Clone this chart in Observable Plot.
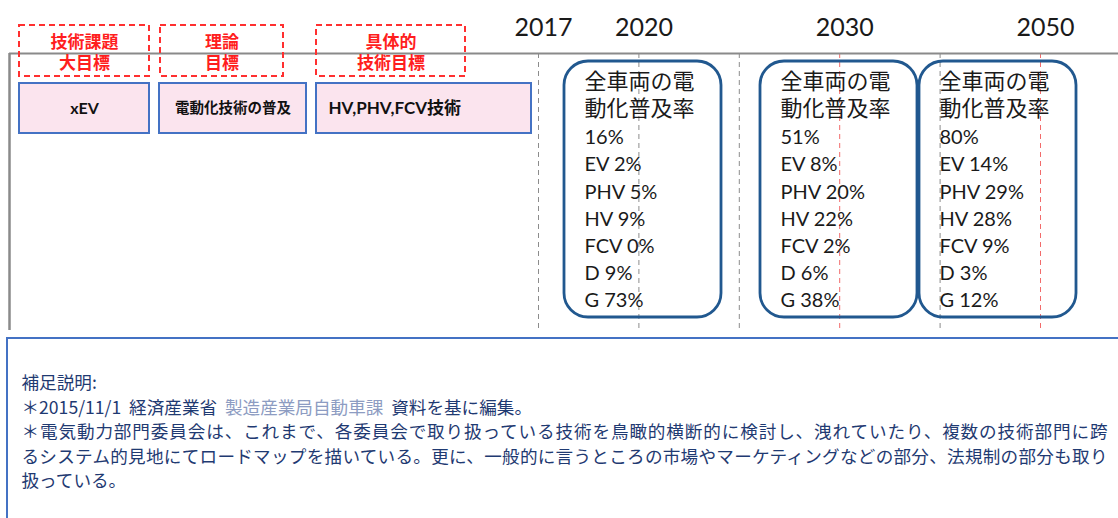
<!DOCTYPE html>
<html><head><meta charset="utf-8">
<script src="https://cdn.jsdelivr.net/npm/d3@7"></script>
<script src="https://cdn.jsdelivr.net/npm/@observablehq/plot@0.6"></script>
<style>
html,body{margin:0;padding:0;background:#fff;overflow:hidden;width:1118px;height:518px;}
#chart{position:absolute;left:0;top:0;}
#notes{position:absolute;left:6px;top:337px;width:1140px;height:220px;border:2.5px solid #4472c4;box-sizing:border-box;
  font-family:"Noto Sans CJK JP",sans-serif;color:#1f3a72;font-size:17.6px;line-height:24.5px;padding:31px 0 0 13.5px;}
#notes .ln{width:1086px;white-space:pre;}
#notes .full{text-align:justify;text-align-last:justify;white-space:normal;}
#notes .light{color:#8d9cc2;}
</style></head><body>
<div id="chart"></div>
<div id="notes"></div>
<script>
// ---- data ----
const timelineYears = ["2017","2020","2025","2030","2040","2050"];
const labeledYears = ["2017","2020","2030","2050"];
const highlightYears = ["2030","2050"];
const milestoneYears = ["2020","2030","2050"];
const totalRate = [16, 51, 80];
const evRate = [2, 8, 14];
const phvRate = [5, 20, 29];
const hvRate = [9, 22, 28];
const fcvRate = [0, 2, 9];
const dRate = [9, 6, 3];
const gRate = [73, 38, 12];
const headerLine1 = ["技術課題", "理論", "具体的"];
const headerLine2 = ["大目標", "目標", "技術目標"];
const itemLabels = ["xEV", "電動化技術の普及", "HV,PHV,FCV技術"];
const noteTitle = "補足説明:";
const noteSource = ["＊2015/11/1  経済産業省  ", "製造産業局自動車課", "  資料を基に編集。"];
const noteBody = [
  "＊電気動力部門委員会は、これまで、各委員会で取り扱っている技術を鳥瞰的横断的に検討し、洩れていたり、複数の技術部門に跨",
  "るシステム的見地にてロードマップを描いている。更に、一般的に言うところの市場やマーケティングなどの部分、法規制の部分も取り",
  "扱っている。"
];

// ---- layout ----
const W = 1118, H = 336;
const topY = 53, bottomY = 330;
const tx = Plot.scale({x: {type: "point", domain: timelineYears, range: [538, 1040], padding: 0}});
const headerCols = [[19,149],[160,283],[316,465]];
const itemCols = [[19,149],[159,306],[316,531]];
const boxCols = [[564,721],[760,917],[919,1076]];

const headers = headerLine1.map((t,i)=>({t, t2: headerLine2[i], x1: headerCols[i][0], x2: headerCols[i][1]}));
const items = itemLabels.map((t,i)=>({t, i, x1: itemCols[i][0], x2: itemCols[i][1]}));
const milestones = milestoneYears.map((y,i)=>({
  year: y, x1: boxCols[i][0], x2: boxCols[i][1],
  head: "全車両の電\n動化普及率",
  body: [`${totalRate[i]}%`, `EV ${evRate[i]}%`, `PHV ${phvRate[i]}%`, `HV ${hvRate[i]}%`, `FCV ${fcvRate[i]}%`, `D ${dRate[i]}%`, `G ${gRate[i]}%`].join("\n")
}));

const latin = "Lato, 'Noto Sans CJK JP', sans-serif";
const cjk = "'Noto Sans CJK JP', sans-serif";

const chart = Plot.plot({
  width: W, height: H,
  marginTop: 0, marginRight: 0, marginBottom: 0, marginLeft: 0,
  x: {domain: [0, W], range: [0, W], axis: null},
  y: {domain: [0, H], range: [0, H], axis: null},
  style: {background: "white", overflow: "visible"},
  marks: [
    // timeline guides
    Plot.ruleX(timelineYears.filter(y => !highlightYears.includes(y)), {x: y => tx.apply(y), y1: topY, y2: bottomY, stroke: "#8c8c8c", strokeWidth: 1, strokeDasharray: "5,4"}),
    Plot.ruleX(highlightYears, {x: y => tx.apply(y), y1: topY, y2: bottomY, stroke: "#f26b6b", strokeWidth: 1, strokeDasharray: "5,4"}),
    Plot.ruleY([topY], {x1: 9, x2: W, stroke: "#8a8a8a", strokeWidth: 2}),
    Plot.ruleX([9], {y1: topY, y2: bottomY, stroke: "#8a8a8a", strokeWidth: 2.5}),
    // year labels
    Plot.text(labeledYears, {x: y => tx.apply(y), dx: 5, y: 27, text: d => d, fontSize: 25, fontFamily: latin, fill: "#1a1a1a"}),
    // header dashed boxes
    Plot.rect(headers, {x1: "x1", x2: "x2", y1: 25, y2: 76, fill: "none", stroke: "#ff3030", strokeWidth: 2, strokeDasharray: "6,4"}),
    Plot.text(headers, {x: d => (d.x1 + d.x2) / 2, y: 42, text: "t", fontSize: 17, fontWeight: "bold", fontFamily: cjk, fill: "#ff1e1e"}),
    Plot.text(headers, {x: d => (d.x1 + d.x2) / 2, y: 63, text: "t2", fontSize: 17, fontWeight: "bold", fontFamily: cjk, fill: "#ff1e1e"}),
    // item boxes
    Plot.rect(items, {x1: "x1", x2: "x2", y1: 83, y2: 133, fill: "#fbe4ee", stroke: "#4472c4", strokeWidth: 2}),
    Plot.text(items.filter(d => d.i === 0), {x: d => (d.x1 + d.x2) / 2, y: 108, text: "t", fontSize: 16, fontWeight: "bold", fontFamily: latin, fill: "#111"}),
    Plot.text(items.filter(d => d.i === 1), {x: d => (d.x1 + d.x2) / 2, y: 108, text: "t", fontSize: 14.5, fontWeight: "bold", fontFamily: cjk, fill: "#111"}),
    Plot.text(items.filter(d => d.i === 2), {x: d => d.x1 + 12, y: 108, text: "t", textAnchor: "start", fontSize: 17, fontWeight: "bold", fontFamily: latin, fill: "#111"}),
    // milestone rounded boxes
    Plot.rect(milestones, {x1: "x1", x2: "x2", y1: 61, y2: 317, rx: 24, fill: "none", stroke: "#21588f", strokeWidth: 2.8}),
    Plot.text(milestones, {x: d => d.x1 + 20, y: 93.5, text: "head", textAnchor: "start", fontSize: 22, fontFamily: cjk, fill: "#1a1a1a", lineHeight: 1.227}),
    Plot.text(milestones, {x: d => d.x1 + 20, y: 216.5, text: "body", textAnchor: "start", fontSize: 20, fontFamily: latin, fill: "#1a1a1a", lineHeight: 1.358})
  ]
});
document.getElementById("chart").appendChild(chart);

// notes caption
const notes = document.getElementById("notes");
const l1 = document.createElement("div"); l1.className = "ln"; l1.textContent = noteTitle; notes.appendChild(l1);
const l2 = document.createElement("div"); l2.className = "ln";
noteSource.forEach((s, i) => { const sp = document.createElement("span"); sp.textContent = s; if (i === 1) sp.className = "light"; l2.appendChild(sp); });
notes.appendChild(l2);
noteBody.forEach((s, i) => { const d = document.createElement("div"); d.className = "ln" + (i < noteBody.length - 1 ? " full" : ""); d.textContent = s; notes.appendChild(d); });
</script>
</body></html>
